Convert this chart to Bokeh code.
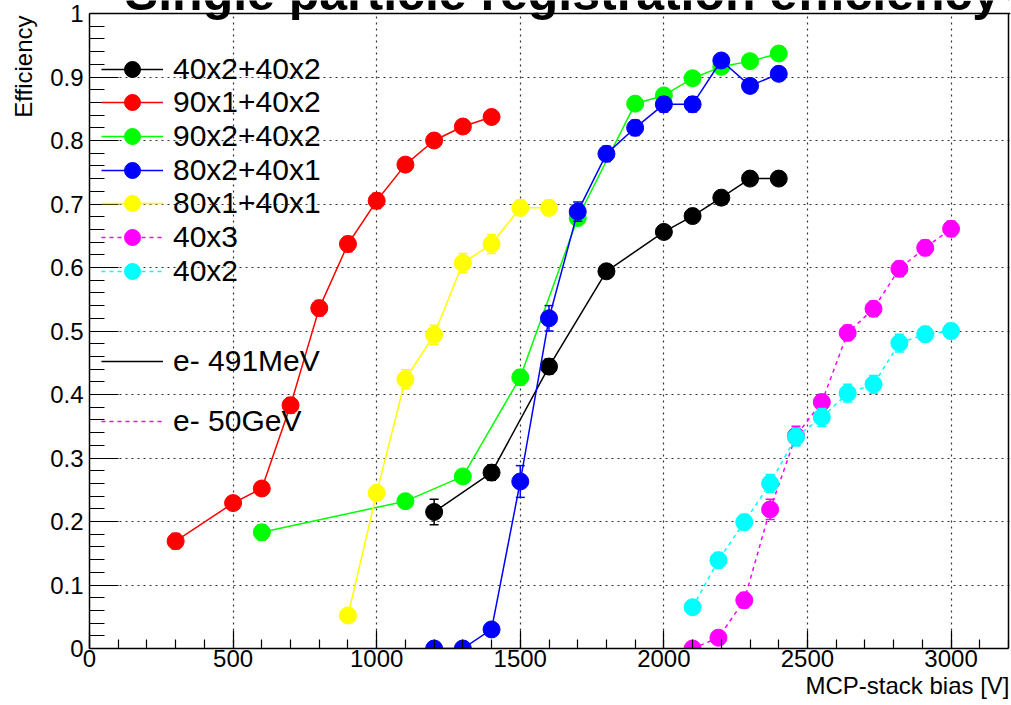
import math
from bokeh.plotting import figure
from bokeh.models import (Range1d, Legend, LegendItem, Label, SingleIntervalTicker,
                          CustomJSTickFormatter, Span, BoxAnnotation, Title)
from bokeh.embed import file_html
from bokeh.resources import INLINE

# ---------------- data ----------------
labels = ["40x2+40x2", "90x1+40x2", "90x2+40x2", "80x2+40x1", "80x1+40x1", "40x3", "40x2"]
colors = ["#000000", "#ff0000", "#00ff00", "#0000ff", "#ffff00", "#ff00ff", "#00ffff"]
dashed = [False, False, False, False, False, True, True]

x_4040 = [1200, 1400, 1600, 1800, 2000, 2100, 2200, 2300, 2400]
y_4040 = [0.215, 0.277, 0.444, 0.594, 0.656, 0.681, 0.710, 0.740, 0.740]
e_4040 = [0.020, 0.012, 0.012, 0.010, 0.010, 0.010, 0.010, 0.010, 0.010]

x_9040 = [300, 500, 600, 700, 800, 900, 1000, 1100, 1200, 1300, 1400]
y_9040 = [0.169, 0.229, 0.252, 0.383, 0.536, 0.637, 0.705, 0.762, 0.800, 0.822, 0.837]
e_9040 = [0.012, 0.010, 0.010, 0.012, 0.012, 0.012, 0.012, 0.010, 0.010, 0.010, 0.010]

x_9240 = [600, 1100, 1300, 1500, 1700, 1900, 2000, 2100, 2200, 2300, 2400]
y_9240 = [0.183, 0.232, 0.271, 0.427, 0.678, 0.858, 0.871, 0.898, 0.916, 0.925, 0.937]
e_9240 = [0.012, 0.010, 0.010, 0.012, 0.012, 0.010, 0.010, 0.010, 0.010, 0.008, 0.008]

x_8240 = [1200, 1300, 1400, 1500, 1600, 1700, 1800, 1900, 2000, 2100, 2200, 2300, 2400]
y_8240 = [0.000, 0.000, 0.030, 0.263, 0.520, 0.688, 0.779, 0.820, 0.857, 0.857, 0.926, 0.886, 0.905]
e_8240 = [0.004, 0.004, 0.010, 0.025, 0.020, 0.015, 0.012, 0.012, 0.012, 0.012, 0.010, 0.010, 0.010]

x_8140 = [900, 1000, 1100, 1200, 1300, 1400, 1500, 1600]
y_8140 = [0.052, 0.245, 0.424, 0.494, 0.607, 0.637, 0.694, 0.694]
e_8140 = [0.008, 0.012, 0.015, 0.015, 0.015, 0.015, 0.012, 0.012]

x_403 = [2100, 2190, 2280, 2370, 2460, 2550, 2640, 2730, 2820, 2910, 3000]
y_403 = [0.000, 0.017, 0.076, 0.219, 0.335, 0.388, 0.497, 0.535, 0.598, 0.631, 0.661]
e_403 = [0.004, 0.008, 0.012, 0.016, 0.015, 0.012, 0.012, 0.012, 0.012, 0.012, 0.012]

x_402 = [2100, 2190, 2280, 2370, 2460, 2550, 2640, 2730, 2820, 2910, 3000]
y_402 = [0.065, 0.139, 0.199, 0.260, 0.333, 0.364, 0.402, 0.416, 0.481, 0.495, 0.500]
e_402 = [0.010, 0.012, 0.012, 0.014, 0.014, 0.014, 0.014, 0.014, 0.014, 0.012, 0.012]

series_x = [x_4040, x_9040, x_9240, x_8240, x_8140, x_403, x_402]
series_y = [y_4040, y_9040, y_9240, y_8240, y_8140, y_403, y_402]
series_e = [e_4040, e_9040, e_9240, e_8240, e_8140, e_403, e_402]

beam_labels = ["e- 491MeV", "e- 50GeV"]
beam_colors = ["#000000", "#ff00ff"]
beam_dashed = [False, True]

title_text = "Single particle registration efficiency"
x_title = "MCP-stack bias [V]"
y_title = "Efficiency"

x_ticks_interval = 500
y_ticks_interval = 0.1
X_MAX = 3200
Y_MAX = 1.0

FONT = "Liberation Sans"

# ---------------- geometry ----------------
W, H = 1011, 705
BL, BR, BB = 88, 1, 57
TOP_PX = 13            # canvas row of y = 1 (the visible frame top)
RIGHT_PX = 1008        # canvas column of x = X_MAX (the visible frame right)
frame_bottom = H - BB
px_per_y = (frame_bottom - TOP_PX) / Y_MAX
px_per_x = (RIGHT_PX - BL) / X_MAX
y_end = frame_bottom / px_per_y                 # plot area reaches the canvas top
x_end = (W - BR - BL) / px_per_x

p = figure(width=W, height=H, x_range=Range1d(0, x_end), y_range=Range1d(0, y_end),
           output_backend="svg", toolbar_location=None, title=None,
           min_border_left=BL, min_border_right=BR, min_border_top=0, min_border_bottom=BB)
p.background_fill_color = "white"
p.border_fill_color = "white"
p.outline_line_color = None

# axes
p.xaxis.ticker = SingleIntervalTicker(interval=x_ticks_interval, num_minor_ticks=5)
p.yaxis.ticker = SingleIntervalTicker(interval=y_ticks_interval, num_minor_ticks=5)
p.xaxis.bounds = (0, X_MAX)
p.yaxis.bounds = (0, Y_MAX)
for ax in (p.xaxis[0], p.yaxis[0]):
    ax.axis_line_color = "black"
    ax.axis_line_width = 1.5
    ax.major_tick_out = 0
    ax.minor_tick_out = 0
    ax.major_tick_line_color = "black"
    ax.minor_tick_line_color = "black"
    ax.major_tick_line_width = 1.2
    ax.minor_tick_line_width = 1.2
    ax.major_label_text_font = FONT
    ax.major_label_text_font_size = "24px"
    ax.major_label_text_color = "black"
p.xaxis.major_tick_in = 18
p.xaxis.minor_tick_in = 9
p.xaxis.major_label_standoff = 1
p.yaxis.major_tick_in = 29
p.yaxis.minor_tick_in = 15
p.yaxis.major_label_standoff = 6
p.yaxis.formatter = CustomJSTickFormatter(
    code="var s = tick.toFixed(1); return s.endsWith('.0') ? s.slice(0, -2) : s;")

# axis titles as side-panel titles (right / top aligned, as in the original)
p.add_layout(Title(text=x_title, align="right", vertical_align="bottom", offset=1, standoff=0,
                   text_font=FONT, text_font_size="24px", text_font_style="normal",
                   text_color="black"), "below")
p.add_layout(Title(text=y_title, align="right", vertical_align="top", offset=15, standoff=18,
                   text_font=FONT, text_font_size="24px", text_font_style="normal",
                   text_color="black"), "left")

# grid (dotted)
for g in (p.xgrid[0], p.ygrid[0]):
    g.grid_line_color = "#333333"
    g.grid_line_dash = "2 4"
    g.grid_line_width = 1.2

# ---------------- series ----------------
items = []
for lab, col, dsh, xs, ys, es in zip(labels, colors, dashed, series_x, series_y, series_e):
    dash = "4 4" if dsh else "solid"
    lo = [y - e for y, e in zip(ys, es)]
    hi = [y + e for y, e in zip(ys, es)]
    p.segment(x0=xs, y0=lo, x1=xs, y1=hi, line_color=col, line_width=1.5)
    p.scatter(xs, hi, marker="dash", size=9, line_color=col, line_width=1.5)
    p.scatter(xs, lo, marker="dash", size=9, line_color=col, line_width=1.5)
    lr = p.line(xs, ys, line_color=col, line_width=1.5, line_dash=dash)
    sr = p.scatter(xs, ys, marker="circle", size=17, fill_color=col, line_color=col)
    items.append(LegendItem(label=lab, renderers=[lr, sr]))

# dummy renderers (no visible data) for the beam-type legend entries
nan = float("nan")
for lab, col, dsh in zip(beam_labels, beam_colors, beam_dashed):
    r = p.line([nan, nan], [nan, nan], line_color=col, line_width=1.5,
               line_dash="4 4" if dsh else "solid")
    items.append(LegendItem(label=lab, renderers=[r]))

# ---------------- frame (right + top edges), blank strip above y = 1 ----------------
p.add_layout(Span(location=X_MAX, dimension="height", line_color="black", line_width=1.5))
p.add_layout(BoxAnnotation(left=0, right=x_end, bottom=Y_MAX, top=y_end,
                           fill_color="white", fill_alpha=1, line_alpha=0))
p.add_layout(Span(location=Y_MAX, dimension="width", line_color="black", line_width=1.5))

# ---------------- legends: one single-entry legend per row ----------------
ITEM_H = 40
legend_rows = [68.5, 102.2, 135.9, 169.6, 203.3, 237.0, 270.7, 361.0, 421.0]
for it, row in zip(items, legend_rows):
    lg = Legend(items=[it], location=(12, frame_bottom - row - ITEM_H / 2))
    lg.background_fill_alpha = 0
    lg.border_line_alpha = 0
    lg.padding = 0
    lg.margin = 0
    lg.spacing = 0
    lg.label_text_font = FONT
    lg.label_text_font_size = "30px"
    lg.label_text_color = "black"
    lg.glyph_width = 62
    lg.glyph_height = ITEM_H
    lg.label_height = ITEM_H
    lg.label_standoff = 10
    lg.label_text_baseline = "middle"
    p.add_layout(lg, "center")

# ---------------- title (runs off the top edge, as in the original) ----------------
p.add_layout(Label(x=(561.5 - BL) / px_per_x, y=(frame_bottom - 20) / px_per_y,
                   text=title_text, text_align="center", text_baseline="bottom",
                   text_font=FONT, text_font_style="bold",
                   text_font_size="50px", text_color="black"))

open("out.html", "w").write(file_html(p, INLINE))
